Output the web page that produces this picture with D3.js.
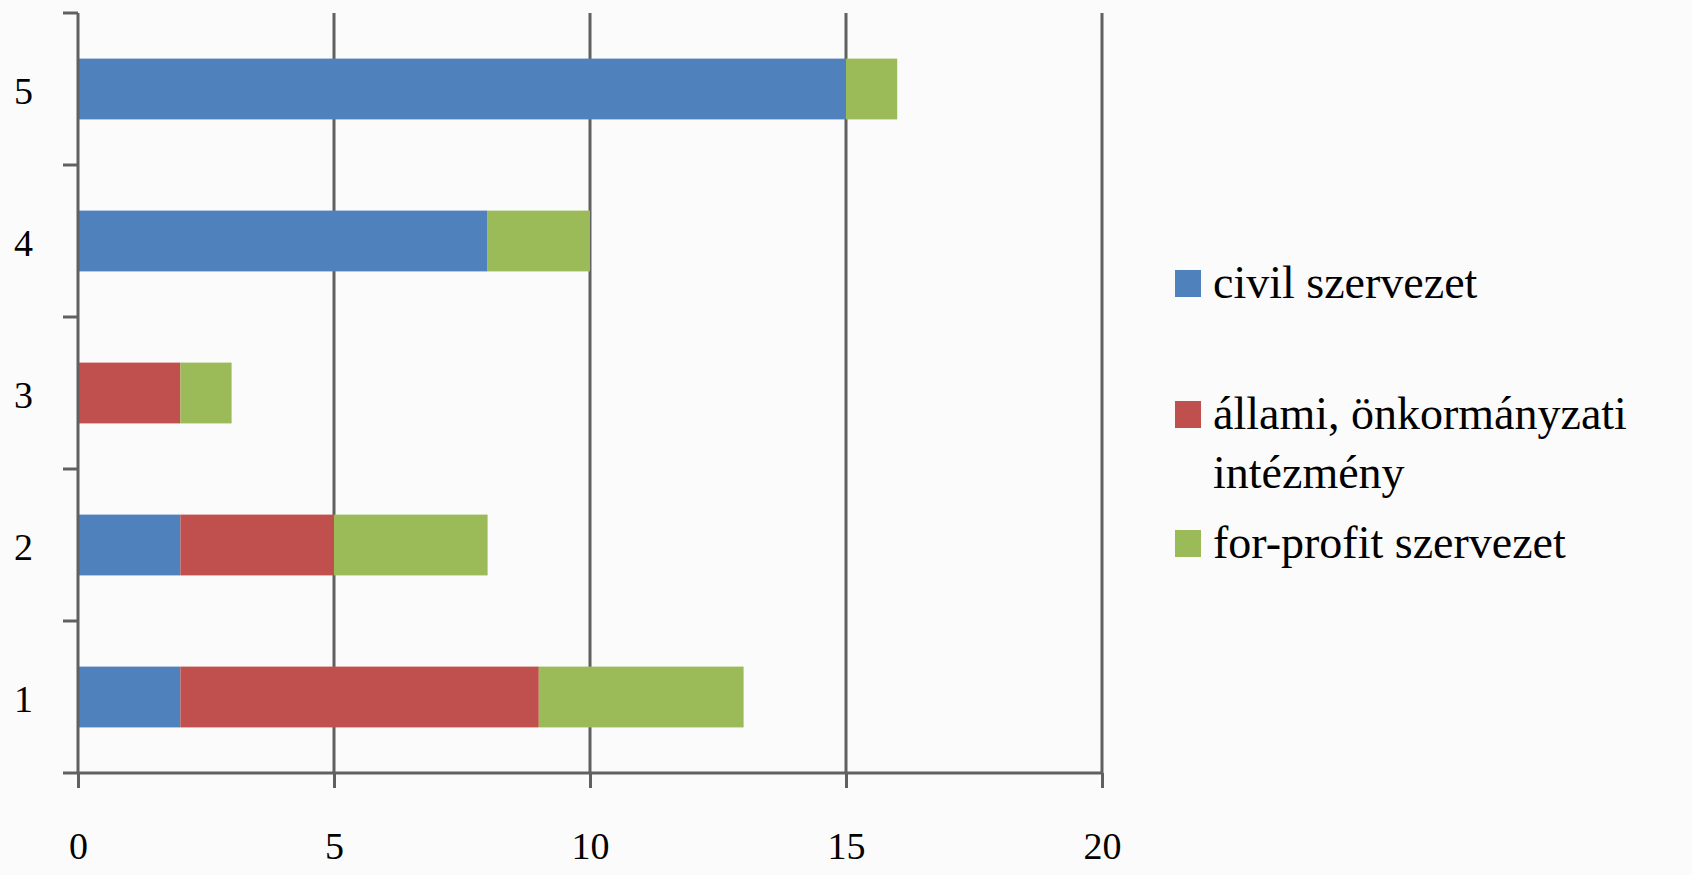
<!DOCTYPE html>
<html>
<head>
<meta charset="utf-8">
<script src="https://cdn.jsdelivr.net/npm/d3@7"></script>
<style>
  body { margin: 0; background: #fbfbfb; overflow: hidden; }
  svg { display: block; }
  text { font-family: "Liberation Serif", "DejaVu Serif", serif; fill: #000; }
</style>
</head>
<body>
<svg width="1692" height="875"></svg>
<script>
// Data
const categories = ["1", "2", "3", "4", "5"];
const seriesNames = ["civil szervezet", "állami, önkormányzati intézmény", "for-profit szervezet"];
const civil = [2, 2, 0, 8, 15];
const allami = [7, 3, 2, 0, 0];
const forProfit = [4, 3, 1, 2, 1];
const xTicks = [0, 5, 10, 15, 20];
const colors = ["#4F81BD", "#C0504D", "#9BBB59"];

const svg = d3.select("svg");

const margin = { top: 13, left: 78 };
const innerWidth = 1024;
const innerHeight = 760;

// build rows for d3.stack
const rows = categories.map((c, i) => ({
  cat: c,
  s0: civil[i],
  s1: allami[i],
  s2: forProfit[i]
}));
const stacked = d3.stack().keys(["s0", "s1", "s2"])(rows);

const xScale = d3.scaleLinear().domain([0, 20]).range([0, innerWidth]);
const yScale = d3
  .scaleBand()
  .domain(categories.slice().reverse()) // 5 at top
  .range([0, innerHeight])
  .paddingInner(0.6)
  .paddingOuter(0.3);

const g = svg.append("g").attr("transform", `translate(${margin.left},${margin.top})`);

const lineColor = "#606060";

// vertical grid lines
g.selectAll(".grid")
  .data(xTicks.slice(1))
  .enter()
  .append("line")
  .attr("x1", (d) => xScale(d))
  .attr("x2", (d) => xScale(d))
  .attr("y1", 0)
  .attr("y2", innerHeight)
  .attr("stroke", lineColor)
  .attr("stroke-width", 3);

// stacked bars
g.selectAll(".layer")
  .data(stacked)
  .enter()
  .append("g")
  .attr("fill", (d, i) => colors[i])
  .selectAll("rect")
  .data((d) => d.filter((p) => p[1] - p[0] > 0))
  .enter()
  .append("rect")
  .attr("x", (d) => xScale(d[0]))
  .attr("width", (d) => xScale(d[1]) - xScale(d[0]))
  .attr("y", (d) => yScale(d.data.cat))
  .attr("height", yScale.bandwidth());

// x axis
const xAxis = d3.axisBottom(xScale).tickValues(xTicks).tickSize(15).tickPadding(44).tickSizeOuter(0);
const xAxisG = g.append("g").attr("transform", `translate(0,${innerHeight})`).call(xAxis);
xAxisG.select(".domain").remove();
xAxisG.append("line").attr("x1", -15).attr("x2", innerWidth).attr("stroke", lineColor).attr("stroke-width", 3);
xAxisG.selectAll(".tick line").attr("stroke", lineColor).attr("stroke-width", 3);
xAxisG.selectAll(".tick text").attr("font-size", 38).attr("font-family", "Liberation Serif").attr("fill", "#000");

// y axis: ticks at band boundaries
const boundaries = d3.range(categories.length).map((i) => (innerHeight / categories.length) * i);
g.append("line").attr("x1", 0).attr("x2", 0).attr("y1", 0).attr("y2", innerHeight)
  .attr("stroke", lineColor).attr("stroke-width", 3);
g.selectAll(".ytick")
  .data(boundaries)
  .enter()
  .append("line")
  .attr("x1", -15)
  .attr("x2", 0)
  .attr("y1", (d) => d)
  .attr("y2", (d) => d)
  .attr("stroke", lineColor)
  .attr("stroke-width", 3);

g.selectAll(".ylabel")
  .data(categories)
  .enter()
  .append("text")
  .attr("x", -45)
  .attr("y", (d) => yScale(d) + yScale.bandwidth() / 2)
  .attr("dy", "0.4em")
  .attr("text-anchor", "end")
  .attr("font-size", 38)
  .text((d) => d);

// legend
const legend = svg.append("g").attr("transform", "translate(1175,0)");
const legendItems = [
  { lines: ["civil szervezet"], y: 298 },
  { lines: ["állami, önkormányzati", "intézmény"], y: 429 },
  { lines: ["for-profit szervezet"], y: 558 }
];
legendItems.forEach((item, i) => {
  legend.append("rect")
    .attr("x", 0)
    .attr("y", item.y - 28)
    .attr("width", 26)
    .attr("height", 27)
    .attr("fill", colors[i]);
  const t = legend.append("text").attr("x", 38).attr("y", item.y).attr("font-size", 46);
  item.lines.forEach((l, j) => {
    t.append("tspan").attr("x", 38).attr("dy", j === 0 ? 0 : 59).text(l);
  });
});
</script>
</body>
</html>
